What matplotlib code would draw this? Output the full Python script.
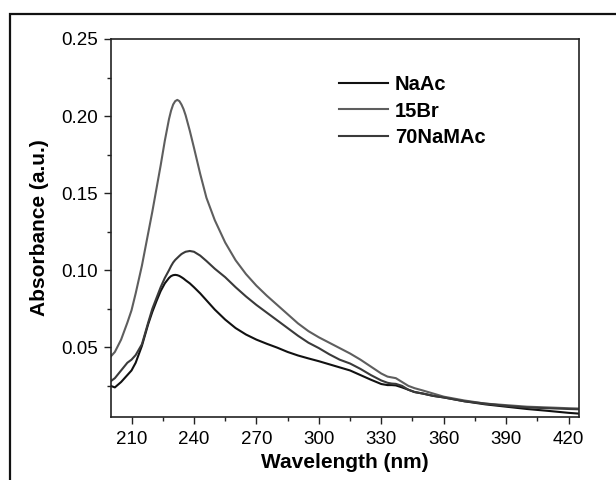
import matplotlib
matplotlib.use("Agg")
import matplotlib.pyplot as plt
from matplotlib.patches import Rectangle
from matplotlib.ticker import MultipleLocator

plt.rcParams["font.family"] = ["Liberation Sans", "DejaVu Sans"]

# valores
wavelength = [200, 202, 205, 208, 210, 212, 215, 218, 220, 222, 224, 226, 228, 229,
              230, 231, 232, 233, 234, 235, 236, 238, 240, 243, 246, 250, 255, 260,
              265, 270, 275, 280, 285, 290, 295, 300, 305, 310, 315, 320, 325, 330,
              333, 335, 337, 340, 343, 346, 350, 355, 360, 370, 380, 390, 400, 410,
              420, 425]

naac = [0.025, 0.024, 0.0275, 0.032, 0.035, 0.040, 0.051, 0.065, 0.073, 0.080, 0.0865,
        0.0915, 0.095, 0.0962, 0.0968, 0.0970, 0.0968, 0.0963, 0.0955, 0.0946, 0.0935,
        0.0915, 0.089, 0.085, 0.0805, 0.0745, 0.068, 0.0625, 0.0583, 0.055, 0.0523,
        0.0498, 0.047, 0.0447, 0.0428, 0.041, 0.039, 0.037, 0.035, 0.032, 0.029,
        0.0262, 0.0255, 0.0255, 0.0253, 0.024, 0.0225, 0.021, 0.020, 0.0185, 0.0175,
        0.015, 0.013, 0.0115, 0.0100, 0.0088, 0.0075, 0.007]

br15 = [0.044, 0.047, 0.055, 0.066, 0.074, 0.085, 0.103, 0.124, 0.138, 0.153, 0.168,
        0.184, 0.198, 0.2035, 0.2075, 0.2097, 0.2105, 0.2097, 0.2075, 0.2045, 0.2005,
        0.1905, 0.1795, 0.1625, 0.147, 0.1325, 0.118, 0.1065, 0.0975, 0.090, 0.0835,
        0.0775, 0.0715, 0.0655, 0.0605, 0.0565, 0.053, 0.0495, 0.046, 0.042, 0.0375,
        0.033, 0.031, 0.0305, 0.030, 0.0275, 0.025, 0.0235, 0.022, 0.020, 0.018,
        0.0155, 0.0135, 0.0125, 0.0115, 0.0110, 0.0105, 0.0103]

namac70 = [0.028, 0.030, 0.035, 0.040, 0.042, 0.045, 0.052, 0.066, 0.075, 0.082, 0.089,
           0.095, 0.100, 0.1027, 0.105, 0.1067, 0.108, 0.1093, 0.1105, 0.1113, 0.112,
           0.1125, 0.112, 0.1095, 0.106, 0.101, 0.0955, 0.089, 0.083, 0.0775, 0.0725,
           0.0675, 0.0625, 0.0575, 0.053, 0.0495, 0.0455, 0.042, 0.0395, 0.036, 0.032,
           0.0285, 0.027, 0.0265, 0.0263, 0.025, 0.0225, 0.021, 0.020, 0.0185, 0.0175,
           0.015, 0.0135, 0.012, 0.011, 0.0105, 0.0100, 0.0098]

labels = ["NaAc", "15Br", "70NaMAc"]
colors = ["#111111", "#5e5e5e", "#3a3a3a"]

fig = plt.figure(figsize=(6.16, 4.8), dpi=100)
fig.patch.set_facecolor("white")

# moldura da figura (cortada à direita e embaixo)
fig.patches.append(Rectangle((10 / 616, -0.5), 1.5, 1 - 14 / 480 + 0.5,
                             transform=fig.transFigure, fill=False,
                             edgecolor="#111111", linewidth=1.6))

ax = fig.add_axes([110.7 / 616, 1 - 416.7 / 480, (579 - 110.7) / 616, (416.7 - 39) / 480])

for y, lab, c in zip([naac, br15, namac70], labels, colors):
    ax.plot(wavelength, y, color=c, linewidth=1.5, label=lab)

ax.set_xlim(200, 425)
ax.set_ylim(0.005, 0.25)
ax.set_xticks([210, 240, 270, 300, 330, 360, 390, 420])
ax.xaxis.set_minor_locator(MultipleLocator(15))
ax.set_yticks([0.05, 0.10, 0.15, 0.20, 0.25])
ax.set_yticklabels(["0.05", "0.10", "0.15", "0.20", "0.25"])
ax.yaxis.set_minor_locator(MultipleLocator(0.025))

ax.tick_params(which="major", direction="out", length=5, width=1, labelsize=13.5,
               color="#222222", pad=4)
ax.tick_params(which="minor", direction="out", length=3, width=1, color="#222222")
ax.tick_params(axis="x", pad=5)
for s in ax.spines.values():
    s.set_linewidth(1.2)
    s.set_color("#222222")

ax.set_xlabel("Wavelength (nm)", fontsize=15, fontweight="bold")
ax.set_ylabel("Absorbance (a.u.)", fontsize=15, fontweight="bold")
ax.xaxis.set_label_coords(0.5, -0.096)
ax.yaxis.set_label_coords(-0.132, 0.5)

ax.legend(loc="upper left", bbox_to_anchor=(0.4875, 0.905), frameon=False,
          prop={"weight": "bold", "size": 14.5}, handlelength=2.43,
          handletextpad=0.35, labelspacing=0.38, borderpad=0, borderaxespad=0)

plt.savefig("out.png", dpi=100)
plt.close()
